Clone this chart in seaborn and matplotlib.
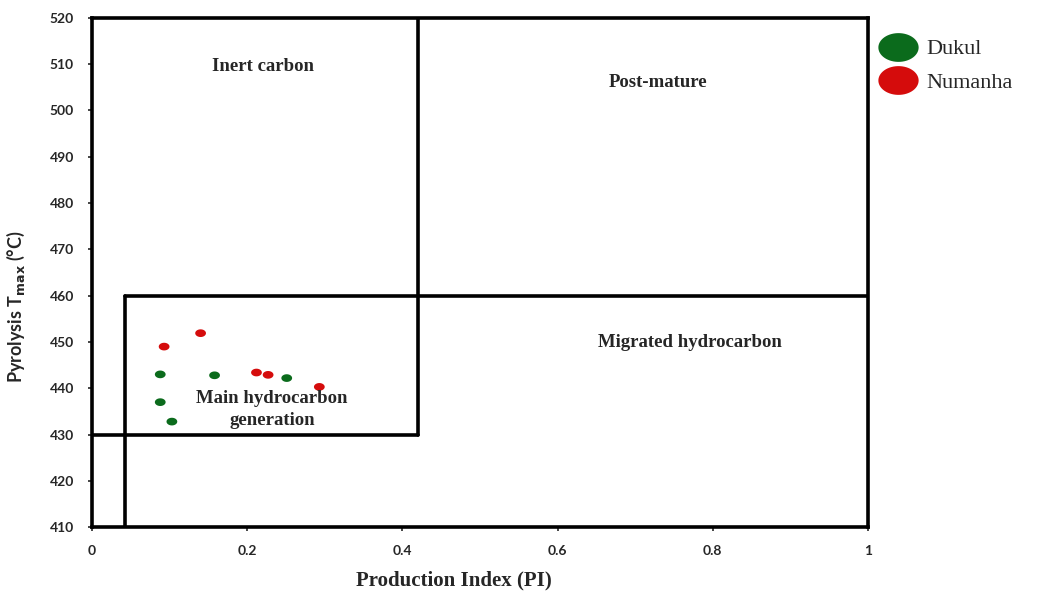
import matplotlib.pyplot as plt
import seaborn as sns
import pandas as pd
import numpy as np
from matplotlib.path import Path
from matplotlib.lines import Line2D

# sample values
dukul_pi = [0.088, 0.158, 0.251, 0.088, 0.103]
dukul_tmax = [443.0, 442.8, 442.2, 437.0, 432.8]
numanha_pi = [0.093, 0.140, 0.212, 0.227, 0.293]
numanha_tmax = [449.0, 451.9, 443.4, 442.9, 440.3]

colors = {'Dukul': '#0b6b1c', 'Numanha': '#d50c0c'}

df = pd.DataFrame({
    'PI': dukul_pi + numanha_pi,
    'Tmax': dukul_tmax + numanha_tmax,
    'Well': ['Dukul'] * len(dukul_pi) + ['Numanha'] * len(numanha_pi),
})

# slightly wide oval marker like the original
t = np.linspace(0, 2 * np.pi, 60)
oval = Path(np.column_stack([1.4 * np.cos(t), np.sin(t)]), closed=True)

sns.set_style('white')
plt.rcParams['font.family'] = ['Liberation Serif', 'DejaVu Serif']

fig = plt.figure(figsize=(10.39, 5.97), dpi=100)
ax = fig.add_axes([0.0885, 0.117, 0.7469, 0.853])

sns.scatterplot(data=df, x='PI', y='Tmax', hue='Well', palette=colors,
                marker=oval, s=60, edgecolor='none', legend=False, ax=ax, zorder=3)

# zone boundaries
lw = 2.6
ax.plot([0.42, 0.42], [430, 520], color='black', lw=lw)
ax.plot([0, 0.42], [430, 430], color='black', lw=lw)
ax.plot([0.043, 1], [460, 460], color='black', lw=lw)
ax.plot([0.043, 0.043], [410, 460], color='black', lw=lw)

# zone labels
kw = dict(ha='center', va='center', fontweight='bold', fontsize=13.5)
ax.text(0.22, 509.6, 'Inert carbon', **kw)
ax.text(0.73, 506.0, 'Post-mature', **kw)
ax.text(0.77, 449.8, 'Migrated hydrocarbon', **kw)
ax.text(0.232, 435.4, 'Main hydrocarbon\ngeneration', linespacing=1.45, **kw)

ax.set_xlim(0, 1)
ax.set_ylim(410, 520)
ax.set_xticks([0, 0.2, 0.4, 0.6, 0.8, 1])
ax.set_xticklabels(['0', '0.2', '0.4', '0.6', '0.8', '1'])
ax.set_yticks(range(410, 521, 10))
for lab in ax.get_xticklabels() + ax.get_yticklabels():
    lab.set_fontweight('bold')
    lab.set_fontsize(10)
    lab.set_family(['Lato', 'DejaVu Sans'])
ax.tick_params(axis='both', which='both', direction='out', length=3, width=1.2,
               left=True, bottom=True)
ax.tick_params(axis='y', pad=10)
ax.tick_params(axis='x', pad=10)
for sp in ax.spines.values():
    sp.set_linewidth(2.6)
    sp.set_color('black')

ax.set_xlabel('Production Index (PI)', fontsize=15, fontweight='bold')
ax.xaxis.set_label_coords(0.466, -0.085)
ax.set_ylabel(r'Pyrolysis T$_{\mathbf{max}}$ (°C)', fontsize=13, fontweight='bold',
              family=['Lato', 'DejaVu Sans'])
ax.yaxis.set_label_coords(-0.084, 0.432)

handles = [Line2D([], [], linestyle='none', marker=oval, markersize=29,
                  markerfacecolor=colors[k], markeredgecolor='none', label=k)
           for k in ['Dukul', 'Numanha']]
fig.legend(handles=handles, loc='upper left', bbox_to_anchor=(0.835, 0.95),
           frameon=False, fontsize=16, handletextpad=0.35, labelspacing=0.6,
           handlelength=1.9, borderaxespad=0)

fig.savefig('out.png', dpi=100)
